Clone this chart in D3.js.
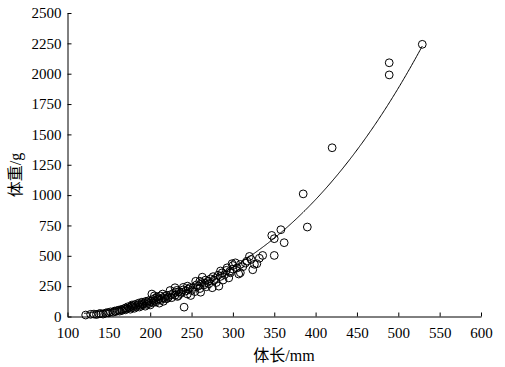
<!DOCTYPE html>
<html><head><meta charset="utf-8">
<script src="https://cdn.jsdelivr.net/npm/d3@7"></script>
<style>
body{margin:0;background:#fff;}
text{font-family:"Liberation Serif","Times New Roman","Noto Sans CJK SC",serif;fill:#000;}
</style></head>
<body>
<svg id="c" width="505" height="367"></svg>
<script>
// body length (mm)
const lengths = [122,128,132,135,138,140,143,146,148,150,152,155,157,158,160,162,163,165,166,168,170,170,172,173,175,176,177,178,179,180,181,182,183,185,186,187,188,190,190,191,193,194,195,196,197,198,199,200,201,202,203,204,205,205,206,207,208,209,210,211,212,213,215,215,216,218,219,220,221,222,224,225,226,228,230,230,231,232,233,234,235,237,238,240,240,241,243,245,245,246,248,249,250,252,254,255,256,258,260,260,261,262,263,265,266,267,268,270,271,273,275,276,277,279,280,282,283,285,285,287,288,290,292,293,295,296,297,299,300,300,303,305,307,309,309,312,315,317,320,322,324,326,329,332,336,347,350,350,358,362,385,390,420,489,489,529];
// body weight (g)
const weights = [12,18,20,16,22,25,20,28,32,30,38,35,45,40,48,52,44,58,50,62,55,70,66,80,72,60,85,95,75,88,68,100,82,95,110,78,90,105,118,95,112,85,125,100,118,130,108,95,125,185,140,115,130,170,150,120,160,135,145,110,170,140,155,185,125,165,145,175,150,160,214,180,155,190,175,237,200,215,165,173,205,190,200,220,240,77,210,185,250,225,237,173,215,240,205,290,260,250,230,290,200,280,324,260,275,300,245,290,270,310,237,328,300,313,280,340,250,330,375,360,300,345,380,401,318,370,360,435,390,420,442,400,350,429,360,410,440,456,495,470,385,430,435,480,503,668,641,503,715,608,1010,737,1390,2090,1990,2242];
// fitted curve W = a * L^b
const fitA = 1.505e-5, fitB = 3.0;
const curveFrom = 120, curveTo = 529;
const xTicks = [100,150,200,250,300,350,400,450,500,550,600];
const yTicks = [0,250,500,750,1000,1250,1500,1750,2000,2250,2500];
const xTitle = "体长/mm", yTitle = "体重/g";

const svg = d3.select("#c");
const x = d3.scaleLinear().domain([100,600]).range([67.5,481]);
const y = d3.scaleLinear().domain([0,2500]).range([316.5,13]);

const fs = "15px";
const gx = svg.append("g").attr("transform",`translate(0,${y(0)})`)
  .call(d3.axisBottom(x).tickValues(xTicks).tickSizeInner(-4).tickSizeOuter(0).tickPadding(11).tickFormat(d3.format("d")));
const gy = svg.append("g").attr("transform",`translate(${x(100)},0)`)
  .call(d3.axisLeft(y).tickValues(yTicks).tickSizeInner(-4).tickSizeOuter(0).tickPadding(6).tickFormat(d3.format("d")));
[gx,gy].forEach(g=>{
  g.selectAll("path,line").attr("stroke","#000").attr("stroke-width",1);
  g.selectAll("text").style("font-size",fs).attr("fill","#000");
});

const pts = lengths.map((l,i)=>({l, w:weights[i]}));
svg.append("g").selectAll("circle").data(pts).join("circle")
  .attr("cx",d=>x(d.l)).attr("cy",d=>y(d.w)).attr("r",3.9)
  .attr("fill","none").attr("stroke","#000").attr("stroke-width",1);

const cl = d3.range(curveFrom, curveTo+0.5, 1);
svg.append("path").datum(cl)
  .attr("d", d3.line().x(l=>x(l)).y(l=>y(fitA*Math.pow(l,fitB))))
  .attr("fill","none").attr("stroke","#000").attr("stroke-width",1);

svg.append("text").attr("x",284).attr("y",361).attr("text-anchor","middle")
  .style("font-size","16px").text(xTitle);
svg.append("text").attr("transform","translate(21,175) rotate(-90)").attr("text-anchor","middle")
  .style("font-size","16px").text(yTitle);
</script>
</body></html>
